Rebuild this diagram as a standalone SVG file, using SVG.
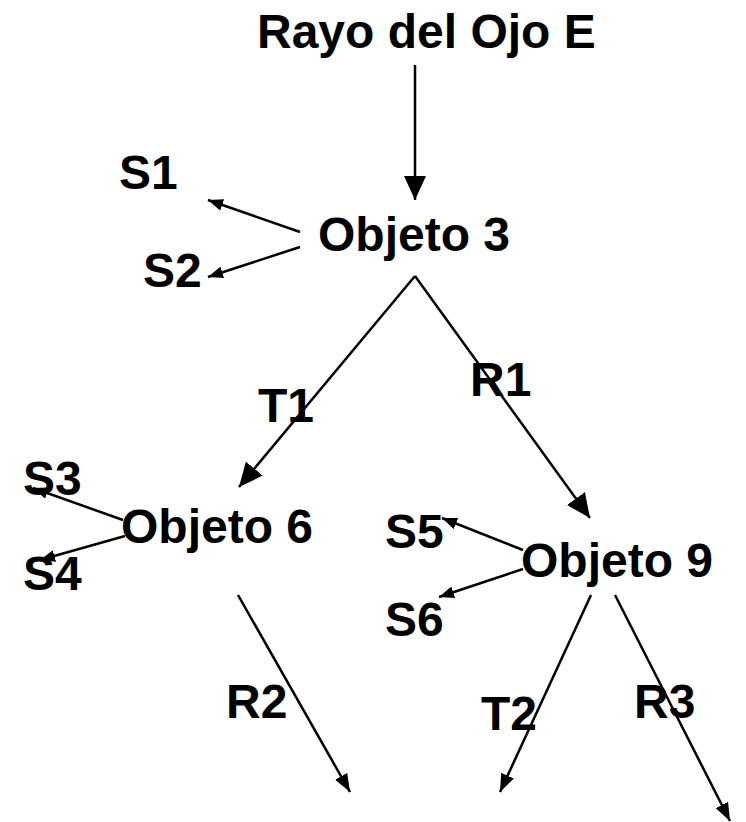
<svg xmlns="http://www.w3.org/2000/svg" width="746" height="822" viewBox="0 0 746 822">
  <style>
    .lbl { font-family: "Liberation Sans", Arial, sans-serif; font-weight: bold; font-size: 48px; fill: #000; }
    .ray { stroke: #000; stroke-width: 2.5; fill: none; }
  </style>
  <defs>
    <marker id="headL" viewBox="0 0 24 22" refX="24" refY="11" markerWidth="24" markerHeight="22" markerUnits="userSpaceOnUse" orient="auto">
      <path d="M0,0 L24,11 L0,22 z" fill="#000"/>
    </marker>
    <marker id="headM" viewBox="0 0 18 14" refX="18" refY="7" markerWidth="18" markerHeight="14" markerUnits="userSpaceOnUse" orient="auto">
      <path d="M0,0 L18,7 L0,14 z" fill="#000"/>
    </marker>
    <marker id="headS" viewBox="0 0 15 12" refX="15" refY="6" markerWidth="15" markerHeight="12" markerUnits="userSpaceOnUse" orient="auto">
      <path d="M0,0 L15,6 L0,12 z" fill="#000"/>
    </marker>
  </defs>

  <!-- ray tree connectors -->
  <g id="connectors">
    <line class="ray" x1="415" y1="65" x2="415" y2="200" marker-end="url(#headL)"/>
    <line class="ray" x1="300" y1="232" x2="208" y2="200" marker-end="url(#headS)"/>
    <line class="ray" x1="300" y1="247" x2="208" y2="277" marker-end="url(#headS)"/>
    <line class="ray" x1="415" y1="276" x2="239" y2="487" marker-end="url(#headL)"/>
    <line class="ray" x1="415" y1="276" x2="590" y2="518" marker-end="url(#headL)"/>
    <line class="ray" x1="123" y1="520" x2="33" y2="488" marker-end="url(#headS)"/>
    <line class="ray" x1="125" y1="536" x2="40" y2="560" marker-end="url(#headS)"/>
    <line class="ray" x1="523" y1="550" x2="442" y2="518" marker-end="url(#headS)"/>
    <line class="ray" x1="523" y1="569" x2="439" y2="597" marker-end="url(#headS)"/>
    <line class="ray" x1="238" y1="595" x2="350" y2="792" marker-end="url(#headM)"/>
    <line class="ray" x1="591" y1="595" x2="500" y2="792" marker-end="url(#headM)"/>
    <line class="ray" x1="615" y1="595" x2="730" y2="821" marker-end="url(#headM)"/>
  </g>

  <g id="eye-ray"><text class="lbl" x="257" y="48">Rayo del Ojo E</text></g>
  <g id="objeto-3"><text class="lbl" x="318" y="251">Objeto 3</text></g>
  <g id="s1"><text class="lbl" x="119" y="189">S1</text></g>
  <g id="s2"><text class="lbl" x="143" y="287">S2</text></g>
  <g id="t1"><text class="lbl" x="258" y="422">T1</text></g>
  <g id="r1"><text class="lbl" x="470" y="396">R1</text></g>
  <g id="objeto-6"><text class="lbl" x="121" y="543">Objeto 6</text></g>
  <g id="s3"><text class="lbl" x="23" y="495">S3</text></g>
  <g id="s4"><text class="lbl" x="23" y="590">S4</text></g>
  <g id="objeto-9"><text class="lbl" x="521" y="577">Objeto 9</text></g>
  <g id="s5"><text class="lbl" x="385" y="548">S5</text></g>
  <g id="s6"><text class="lbl" x="385" y="636">S6</text></g>
  <g id="r2"><text class="lbl" x="226" y="718">R2</text></g>
  <g id="t2"><text class="lbl" x="481" y="730">T2</text></g>
  <g id="r3"><text class="lbl" x="634" y="718">R3</text></g>
</svg>
